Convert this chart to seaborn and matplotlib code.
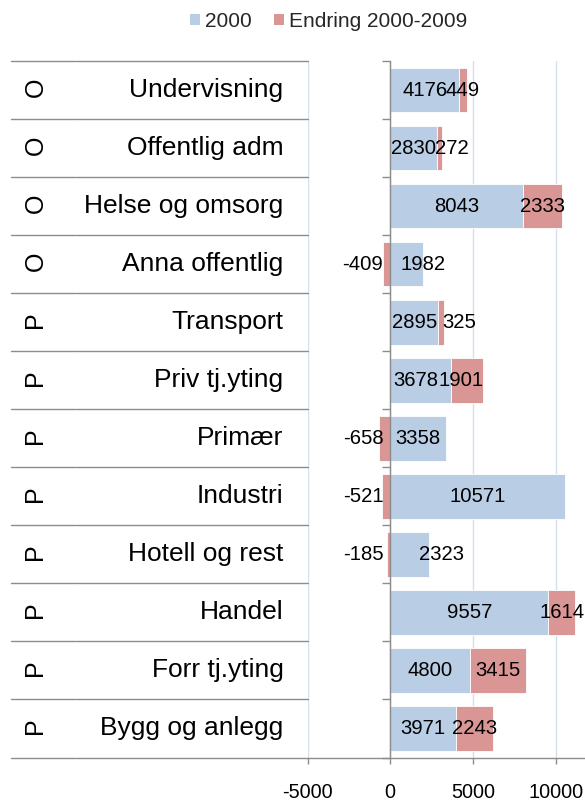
import numpy as np
import pandas as pd
import matplotlib
matplotlib.use("Agg")
import matplotlib.pyplot as plt
import matplotlib.transforms as mtransforms
from matplotlib.patches import Patch
import seaborn as sns

# data (lest av figuren)
sektor = ["O", "O", "O", "O", "P", "P", "P", "P", "P", "P", "P", "P"]
naering = ["Undervisning", "Offentlig adm", "Helse og omsorg", "Anna offentlig",
           "Transport", "Priv tj.yting", "Primær", "Industri", "Hotell og rest",
           "Handel", "Forr tj.yting", "Bygg og anlegg"]
verdi_2000 = [4176, 2830, 8043, 1982, 2895, 3678, 3358, 10571, 2323, 9557, 4800, 3971]
endring = [449, 272, 2333, -409, 325, 1901, -658, -521, -185, 1614, 3415, 2243]
x_ticks = [-5000, 0, 5000, 10000]

# etiketter som ligg litt utanfor midten i originalen (pikslar)
dx_2000 = [0, 0, 0, 16, 0, -5, 0, 0, 32, 0, 0, 0]
dx_endr = [0, 13, 0, 0, 18, -6, 0, 0, 0, 0, 0, 0]

blue = "#B9CDE5"
red = "#D99694"
grey = "#8C8C8C"

sns.set_theme(style="white")
plt.rcParams["font.family"] = ["Liberation Sans", "DejaVu Sans"]

df = pd.DataFrame({"naering": naering, "v2000": verdi_2000, "endring": endring})

W, H = 585, 802
fig = plt.figure(figsize=(W / 100, H / 100), dpi=100)
ax_left, ax_right = 307.5, 588.8
ax_top, ax_bot = 61, 757.5
ax = fig.add_axes([ax_left / W, 1 - ax_bot / H, (ax_right - ax_left) / W, (ax_bot - ax_top) / H])

bh = 0.77
sns.barplot(data=df, x="v2000", y="naering", orient="h", color=blue, saturation=1,
            width=bh, edgecolor="white", linewidth=0.6, ax=ax, zorder=2)
pos = np.arange(len(naering))
start = [v if e > 0 else 0 for v, e in zip(verdi_2000, endring)]
ax.barh(pos, endring, left=start, height=bh, color=red, edgecolor="white",
        linewidth=0.6, zorder=2)

ax.set_xlim(-5000, 12000)
ax.set_ylim(len(naering) - 0.5, -0.5)

# verdietikettar
fs_val = 14.6
for i, (v, e) in enumerate(zip(verdi_2000, endring)):
    ax.annotate(str(v), (v / 2, i), xytext=(dx_2000[i] * 0.72, 0), textcoords="offset points",
                ha="center", va="center", fontsize=fs_val, color="black", zorder=3)
    if e > 0:
        ax.annotate(str(e), (v + e / 2, i), xytext=(dx_endr[i] * 0.72, 0), textcoords="offset points",
                    ha="center", va="center", fontsize=fs_val, color="black", zorder=3)
    else:
        ax.annotate(str(e), (0, i), xytext=(-5, 0), textcoords="offset points",
                    ha="right", va="center", fontsize=fs_val, color="black", zorder=3)

# aksar
for s in ["top", "right"]:
    ax.spines[s].set_visible(False)
ax.spines["left"].set_position(("data", 0))
ax.spines["left"].set_color(grey)
ax.spines["bottom"].set_color(grey)
ax.spines["left"].set_linewidth(1.0)
ax.spines["bottom"].set_linewidth(1.0)
ax.set_yticks(np.arange(-0.5, len(naering), 1))
ax.set_yticklabels([])
ax.tick_params(axis="y", direction="out", length=5.8, width=1.0, color=grey, left=True)
ax.set_xticks(x_ticks)
ax.set_xticklabels([str(t) for t in x_ticks])
ax.tick_params(axis="x", direction="out", length=4, width=1.0, color=grey, bottom=True,
               pad=14, labelsize=14.3, labelcolor="black")
ax.grid(axis="x", color="#D5DFEC", linewidth=1.0, zorder=0)
ax.grid(axis="y", visible=False)
ax.set_axisbelow(True)
ax.set_xlabel("")
ax.set_ylabel("")

# kategoritabell til venstre
tr = mtransforms.blended_transform_factory(fig.transFigure, ax.transData)
for b in np.arange(-0.5, len(naering), 1):
    ax.plot([11 / W, 74.5 / W], [b, b], color=grey, lw=1.0, transform=tr, clip_on=False)
    ax.plot([75.5 / W, ax_left / W], [b, b], color=grey, lw=1.0, transform=tr, clip_on=False)
for i, (s, n) in enumerate(zip(sektor, naering)):
    ax.text(283.5 / W, i, n, transform=tr, ha="right", va="center", fontsize=19, color="black")
    ax.annotate(s, (35.5 / W, i), xycoords=tr, xytext=(0, 2), textcoords="offset points",
                ha="center", va="center", fontsize=18, rotation=90, color="black")

ax.set_xlim(-5000, 12000)
ax.set_ylim(len(naering) - 0.5, -0.5)

handles = [Patch(facecolor=blue, edgecolor="none"), Patch(facecolor=red, edgecolor="none")]
fig.legend(handles, ["2000", "Endring 2000-2009"], loc="center", bbox_to_anchor=(0.562, 0.973),
           ncol=2, frameon=False, fontsize=15, handlelength=0.45, handleheight=0.45,
           handletextpad=0.25, columnspacing=1.1)

fig.savefig("out.png", dpi=100)
